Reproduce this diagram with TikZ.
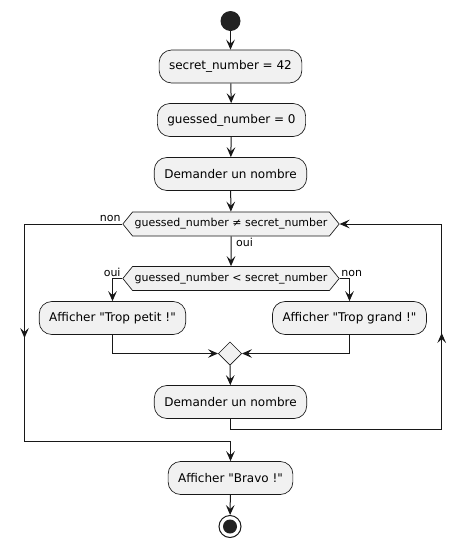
\documentclass[tikz,border=0pt]{standalone}
\usepackage{fontspec}
\setmainfont{DejaVu Sans}[Ligatures=TeXOff]
\usetikzlibrary{arrows.meta, positioning, shapes.geometric, shapes.symbols}
\definecolor{CFill}{HTML}{F1F1F1}
\definecolor{CLine}{HTML}{181818}
\definecolor{CDark}{HTML}{222222}
\definecolor{CWhite}{HTML}{FFFFFF}

\begin{document}
\begin{tikzpicture}[x=0.75pt, y=-0.75pt,
    action/.style={draw=CLine, line width=0.5pt, fill=CFill, rounded corners=9.4pt,
        minimum height=24.75pt, inner xsep=7.5pt, inner ysep=0pt, font=\fontsize{9pt}{11pt}\selectfont},
    test/.style={signal, signal to=east and west, signal pointer angle=102, draw=CLine, line width=0.5pt,
        fill=CFill, minimum height=18pt, inner xsep=1.5pt, inner ysep=0pt, font=\fontsize{8.25pt}{10pt}\selectfont},
    merge/.style={diamond, draw=CLine, line width=0.5pt, fill=CFill, minimum width=17.5pt,
        minimum height=17.5pt, inner sep=0pt},
    lbl/.style={font=\fontsize{8.25pt}{10pt}\selectfont, inner sep=1.2pt},
    flow/.style={draw=CLine, line width=0.75pt},
    tip/.style={-{Stealth[length=7.5pt, width=6.5pt, inset=3pt]}}]
    \useasboundingbox (0,0) rectangle (466,547);

    % Start and first steps
    \node[circle, fill=CDark, minimum size=15pt, inner sep=0pt] (start) at (230.5,21) {};
    \node[action] (init) at (230.5,66.5) {secret\_number = 42};
    \node[action] (guess) at (231.5,120) {guessed\_number = 0};
    \node[action] (ask) at (230.5,174) {Demander un nombre};

    % Loop test
    \node[test] (loop) at (231,224) {guessed\_number ≠ secret\_number};
    \node[test] (cmp) at (231,278.5) {guessed\_number < secret\_number};

    % Branches
    \node[action] (small) at (112.5,318) {Afficher "Trop petit !"};
    \node[action] (big) at (349.5,318) {Afficher "Trop grand !"};
    \node[merge] (join) at (230,353.5) {};
    \node[action] (again) at (230.5,402) {Demander un nombre};

    % End
    \node[action] (bravo) at (230.5,478) {Afficher "Bravo !"};
    \node[circle, draw=CLine, line width=0.75pt, fill=CWhite, minimum size=16.5pt, inner sep=0pt] (stop) at (230,526.5) {};
    \fill[CDark] (stop) circle (5.25pt);

    % Loop corners
    \coordinate (leftbot) at (24.5,441.7);
    \coordinate (leftarr) at (24.5,338);
    \coordinate (rightbot) at (441.7,429);
    \coordinate (rightarr) at (441.7,333);

    % Straight flow
    \draw[flow, tip] (start) -- (init);
    \draw[flow, tip] (init) -- (guess);
    \draw[flow, tip] (guess) -- (ask);
    \draw[flow, tip] (ask) -- (loop);
    \draw[flow, tip] (loop) -- (cmp);
    \draw[flow, tip] (cmp.west) -| (small.north);
    \draw[flow, tip] (cmp.east) -| (big.north);
    \draw[flow, tip] (small.south) |- (join.west);
    \draw[flow, tip] (big.south) |- (join.east);
    \draw[flow, tip] (join) -- (again);
    \draw[flow, tip] (bravo) -- (stop);

    % Back to the test
    \draw[flow, tip] (again.south) |- (rightbot) |- (loop.east);
    \draw[flow, tip] (rightbot) -- (rightarr);

    % Leaving the loop
    \draw[flow, tip] (loop.west) -| (leftbot) -| (bravo.north);
    \draw[flow, tip] (loop.west -| leftbot) -- (leftarr);

    % Labels
    \node[lbl, anchor=south east] (lnon) at (loop.west) {non};
    \node[lbl, anchor=north west] (loui) at ([xshift=2.5pt]loop.south) {oui};
    \node[lbl, anchor=south east] (coui) at (cmp.west) {oui};
    \node[lbl, anchor=south west] (cnon) at (cmp.east) {non};
\end{tikzpicture}
\end{document}
